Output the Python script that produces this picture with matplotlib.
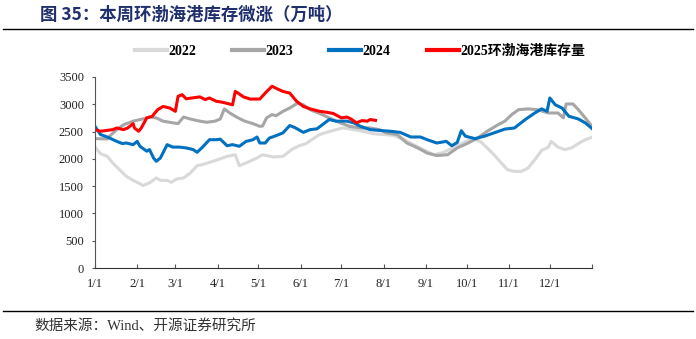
import matplotlib.pyplot as plt
from matplotlib.lines import Line2D

# day-of-year positions and inventory (10k tons)
d22 = [0, 4, 9, 13, 18, 23, 28, 33, 35, 40, 45, 48, 53, 56, 60, 65, 70, 75, 79, 84,
       89, 97, 103, 106, 111, 119, 123, 131, 138, 145, 150, 155, 160, 165, 170, 177,
       182, 190, 197, 204, 212, 219, 227, 234, 241, 249, 256, 264, 271, 278, 283, 288,
       293, 298, 303, 308, 313, 318, 323, 328, 333, 335, 340, 345, 350, 355, 360, 365]
v22 = [2215, 2095, 2045, 1925, 1800, 1680, 1605, 1545, 1510, 1560, 1650, 1605, 1605, 1570,
       1630, 1650, 1740, 1875, 1895, 1935, 1975, 2045, 2075, 1875, 1925, 2015, 2075, 2035,
       2045, 2180, 2240, 2280, 2365, 2445, 2485, 2535, 2565, 2535, 2505, 2460, 2445, 2430,
       2350, 2260, 2170, 2075, 2120, 2215, 2305, 2365, 2320, 2200, 2075, 1935, 1800, 1770,
       1770, 1830, 1985, 2155, 2215, 2320, 2215, 2170, 2200, 2280, 2350, 2395]

d23 = [0, 9, 12, 16, 21, 28, 35, 40, 45, 50, 57, 61, 65, 70, 77, 82, 88, 92, 95, 99,
       104, 110, 116, 121, 123, 126, 130, 133, 138, 143, 149, 153, 158, 165, 172, 180,
       187, 195, 202, 209, 214, 222, 229, 237, 244, 251, 259, 266, 274, 281, 288, 296,
       301, 306, 311, 318, 325, 333, 340, 344, 346, 351, 355, 360, 365]
v23 = [2370, 2365, 2445, 2535, 2625, 2690, 2730, 2765, 2750, 2690, 2660, 2645, 2765, 2730,
       2690, 2670, 2690, 2730, 2915, 2840, 2765, 2690, 2645, 2595, 2600, 2750, 2810, 2790,
       2870, 2930, 3025, 2990, 2900, 2830, 2750, 2660, 2595, 2565, 2565, 2535, 2475, 2445,
       2290, 2200, 2105, 2060, 2075, 2200, 2290, 2380, 2505, 2625, 2690, 2810, 2900, 2915,
       2900, 2840, 2840, 2750, 3005, 3005, 2900, 2750, 2595]

d24 = [0, 4, 9, 16, 20, 23, 28, 31, 33, 38, 40, 43, 45, 48, 53, 57, 62, 67, 72, 75,
       79, 84, 89, 92, 97, 101, 106, 111, 116, 119, 121, 125, 128, 133, 138, 143, 147,
       153, 158, 163, 167, 172, 177, 185, 190, 195, 202, 209, 217, 224, 232, 239, 244,
       251, 258, 262, 266, 269, 272, 279, 286, 293, 301, 308, 316, 323, 328, 332, 334,
       338, 343, 348, 355, 360, 365]
v24 = [2595, 2445, 2400, 2320, 2280, 2290, 2260, 2320, 2230, 2140, 2170, 2015, 1955, 2015,
       2260, 2215, 2215, 2200, 2170, 2120, 2215, 2350, 2350, 2360, 2240, 2260, 2230, 2320,
       2350, 2400, 2290, 2290, 2380, 2425, 2475, 2610, 2570, 2485, 2535, 2550, 2625, 2720,
       2690, 2690, 2660, 2595, 2535, 2520, 2505, 2485, 2400, 2400, 2350, 2290, 2320, 2240,
       2300, 2515, 2415, 2370, 2415, 2475, 2545, 2565, 2720, 2840, 2915, 2870, 3115, 2990,
       2930, 2780, 2730, 2660, 2555]

d25 = [0, 4, 13, 16, 21, 24, 28, 29, 32, 34, 38, 42, 46, 50, 55, 59, 61, 64, 67, 77,
       81, 84, 89, 94, 101, 103, 105, 109, 114, 121, 125, 130, 134, 138, 143, 148, 153,
       158, 165, 171, 175, 181, 185, 188, 192, 196, 200, 202, 206]
v25 = [2535, 2505, 2535, 2565, 2535, 2565, 2645, 2565, 2505, 2565, 2750, 2780, 2900, 2960,
       2930, 2870, 3145, 3175, 3100, 3135, 3085, 3115, 3055, 3035, 2990, 3235, 3205, 3135,
       3095, 3095, 3205, 3330, 3280, 3235, 3205, 3055, 2960, 2915, 2870, 2850, 2830, 2750,
       2765, 2730, 2660, 2700, 2690, 2720, 2705]

month_days = [0, 31, 59, 90, 120, 151, 181, 212, 243, 273, 304, 334, 365]
month_labels = ['1/1', '2/1', '3/1', '4/1', '5/1', '6/1', '7/1', '8/1', '9/1',
                '10/1', '11/1', '12/1', '']
series_names = ['2022', '2023', '2024', '2025环渤海港库存量']
series_colors = ['#d9d9d9', '#a6a6a6', '#0070c0', '#ff0000']

serif = ['Liberation Serif', 'Noto Sans CJK SC']
cjk = ['Noto Sans CJK SC', 'DejaVu Sans']

fig = plt.figure(figsize=(6.96, 3.39), dpi=100)
ax = fig.add_axes([0.1365, 0.2094, 0.7141, 0.5636])

for d, v, c in zip([d22, d23, d24, d25], [v22, v23, v24, v25], series_colors):
    ax.plot(d, v, color=c, lw=2.2, solid_joinstyle='round')

ax.set_xlim(0, 365)
ax.set_ylim(0, 3500)
ax.set_yticks(range(0, 3501, 500))
ax.set_xticks(month_days)
ax.set_xticklabels(month_labels)
for lab in ax.get_xticklabels() + ax.get_yticklabels():
    lab.set_family(serif)
    lab.set_fontsize(9)
    lab.set_color('#222222')
ax.tick_params(axis='x', direction='in', length=3, color='#555555', pad=7)
ax.tick_params(axis='y', direction='out', length=2, color='#555555', pad=6)
ax.spines['top'].set_visible(False)
ax.spines['right'].set_visible(False)
ax.spines['left'].set_color('#555555')
ax.spines['bottom'].set_color('#333333')

handles = [Line2D([], [], color=c, lw=3) for c in series_colors]
fig.legend(handles, series_names, loc='center', bbox_to_anchor=(0.517, 0.848),
           ncol=4, frameon=False, handlelength=2.3, handletextpad=0.1,
           columnspacing=2.6, prop={'family': serif, 'weight': 'bold', 'size': 10})

# header and footer
fig.text(0.057, 0.955, '图 35：本周环渤海港库存微涨（万吨）', family=cjk,
         fontsize=12.5, fontweight='bold', color='#1f2f6e', va='center')
fig.add_artist(Line2D([0.005, 0.995], [0.914, 0.914], color='black', lw=1))
fig.add_artist(Line2D([0.005, 0.995], [0.083, 0.083], color='black', lw=1))
fig.text(0.05, 0.04, '数据来源：Wind、开源证券研究所', family=serif,
         fontsize=10.5, color='#333333', va='center')

fig.savefig('out.png', dpi=100)
